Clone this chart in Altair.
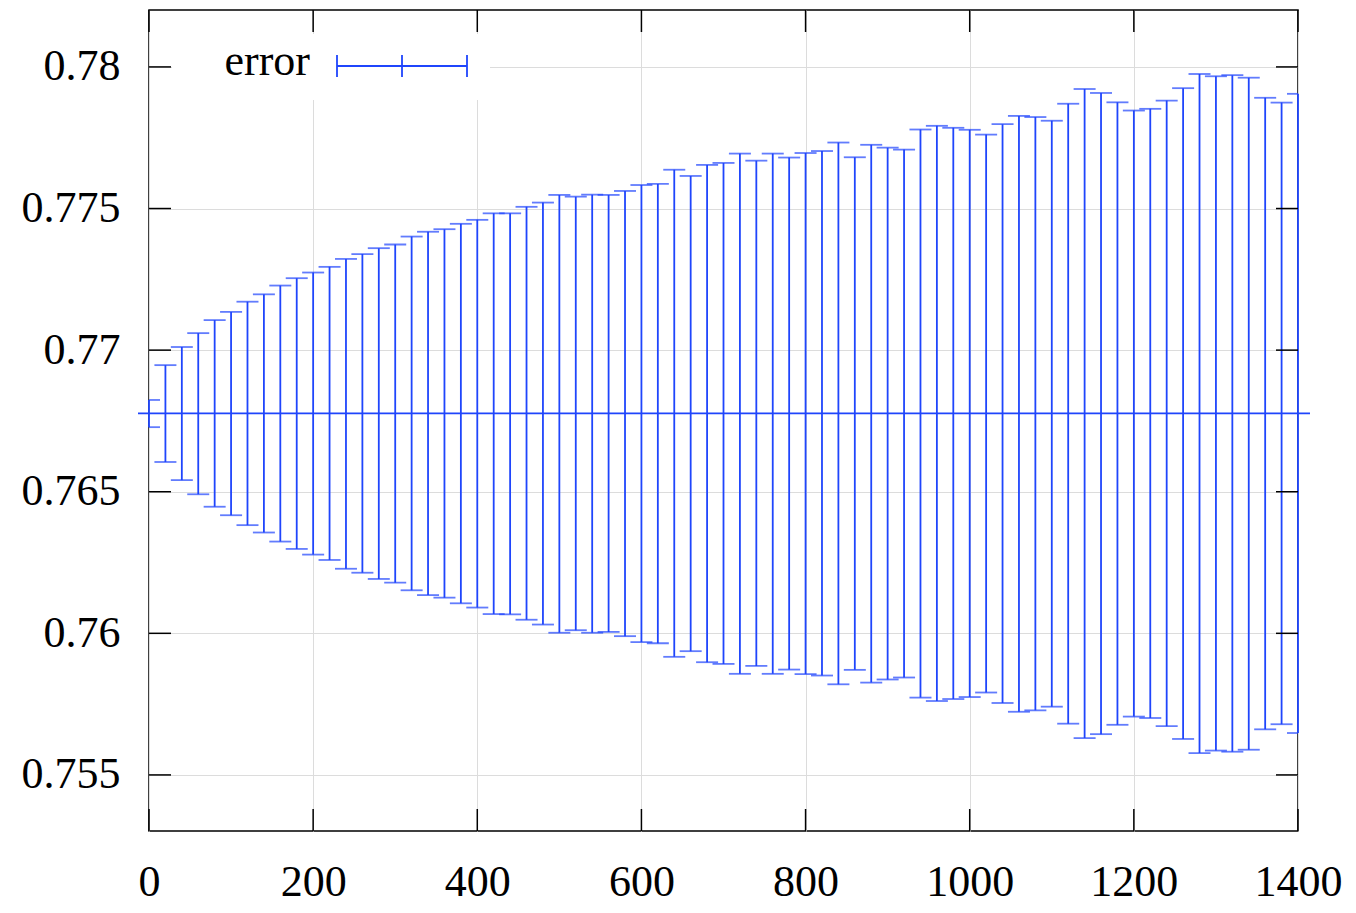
import altair as alt
import pandas as pd

# ---- data ----
X_VALUES = list(range(0, 1401, 20))
CENTER = 0.76777
UPPER = [0.76824, 0.76947, 0.77011, 0.77060, 0.77106, 0.77135, 0.77171, 0.77197, 0.77228, 0.77254,
         0.77274, 0.77294, 0.77322, 0.77339, 0.77360, 0.77373, 0.77401, 0.77418, 0.77427, 0.77446,
         0.77460, 0.77483, 0.77483, 0.77506, 0.77521, 0.77548, 0.77542, 0.77549, 0.77548, 0.77562,
         0.77583, 0.77587, 0.77637, 0.77615, 0.77654, 0.77661, 0.77694, 0.77669, 0.77694, 0.77680,
         0.77696, 0.77703, 0.77733, 0.77681, 0.77725, 0.77715, 0.77708, 0.77779, 0.77792, 0.77785,
         0.77778, 0.77761, 0.77798, 0.77827, 0.77823, 0.77810, 0.77870, 0.77922, 0.77908, 0.77875,
         0.77846, 0.77852, 0.77881, 0.77925, 0.77975, 0.77967, 0.77971, 0.77962, 0.77891, 0.77874,
         0.77905]
LOWER = [0.76728, 0.76605, 0.76541, 0.76491, 0.76447, 0.76417, 0.76382, 0.76356, 0.76324, 0.76298,
         0.76278, 0.76259, 0.76228, 0.76214, 0.76192, 0.76179, 0.76152, 0.76135, 0.76126, 0.76106,
         0.76091, 0.76068, 0.76067, 0.76048, 0.76031, 0.76002, 0.76011, 0.76002, 0.76005, 0.75990,
         0.75969, 0.75965, 0.75917, 0.75937, 0.75898, 0.75892, 0.75857, 0.75885, 0.75857, 0.75872,
         0.75856, 0.75851, 0.75820, 0.75871, 0.75826, 0.75837, 0.75844, 0.75773, 0.75761, 0.75768,
         0.75775, 0.75791, 0.75754, 0.75723, 0.75728, 0.75741, 0.75681, 0.75630, 0.75644, 0.75677,
         0.75706, 0.75701, 0.75672, 0.75627, 0.75577, 0.75586, 0.75582, 0.75589, 0.75661, 0.75679,
         0.75648]
X_TICKS = [0, 200, 400, 600, 800, 1000, 1200, 1400]
Y_TICKS = [0.755, 0.76, 0.765, 0.77, 0.775, 0.78]
SERIES_LABEL = "error"

# ---- style ----
W, H = 1149, 821
BLUE = "#1f45fc"
FONT = "Liberation Serif"
FS = 44
TICK = 22
LW = 1.8

df = pd.DataFrame({"x": X_VALUES, "lo": LOWER, "hi": UPPER})

xs = alt.Scale(domain=[0, 1400], nice=False, zero=False)
ys = alt.Scale(domain=[0.75302, 0.78201], nice=False, zero=False)
xaxis = alt.Axis(values=X_TICKS, format="d", title=None, ticks=False, domain=False,
                 grid=True, gridColor="#dcdcdc", gridWidth=1,
                 labelFont=FONT, labelFontSize=FS, labelColor="black",
                 labelPadding=29, labelFlush=False)
yaxis = alt.Axis(values=Y_TICKS, format=".3~f", title=None, ticks=False, domain=False,
                 grid=True, gridColor="#dcdcdc", gridWidth=1,
                 labelFont=FONT, labelFontSize=FS, labelColor="black",
                 labelPadding=29)

base = alt.Chart(df)
bars = base.mark_rule(color=BLUE, strokeWidth=LW).encode(
    x=alt.X("x:Q", scale=xs, axis=xaxis),
    y=alt.Y("lo:Q", scale=ys, axis=yaxis),
    y2="hi:Q",
)
caps_hi = base.mark_tick(orient="horizontal", size=22, thickness=LW, color=BLUE, clip=True).encode(
    x=alt.X("x:Q", scale=xs, axis=xaxis),
    y=alt.Y("hi:Q", scale=ys, axis=yaxis),
)
caps_lo = base.mark_tick(orient="horizontal", size=22, thickness=LW, color=BLUE, clip=True).encode(
    x=alt.X("x:Q", scale=xs, axis=xaxis),
    y=alt.Y("lo:Q", scale=ys, axis=yaxis),
)
center = alt.Chart(pd.DataFrame({"c": [CENTER]})).mark_rule(color=BLUE, strokeWidth=LW).encode(
    y=alt.Y("c:Q", scale=ys, axis=yaxis),
    x=alt.value(-11), x2=alt.value(W + 12),
)

ydf = pd.DataFrame({"v": Y_TICKS})
xdf = pd.DataFrame({"v": X_TICKS})
yt_left = alt.Chart(ydf).mark_rule(color="black", strokeWidth=1.5).encode(
    y=alt.Y("v:Q", scale=ys, axis=yaxis), x=alt.value(0), x2=alt.value(TICK))
yt_right = alt.Chart(ydf).mark_rule(color="black", strokeWidth=1.5).encode(
    y=alt.Y("v:Q", scale=ys, axis=yaxis), x=alt.value(W - TICK), x2=alt.value(W))
xt_bot = alt.Chart(xdf).mark_rule(color="black", strokeWidth=1.5).encode(
    x=alt.X("v:Q", scale=xs, axis=xaxis), y=alt.value(H - TICK), y2=alt.value(H))
xt_top = alt.Chart(xdf).mark_rule(color="black", strokeWidth=1.5).encode(
    x=alt.X("v:Q", scale=xs, axis=xaxis), y=alt.value(0), y2=alt.value(TICK))

one = pd.DataFrame({"a": [0]})
leg_box = alt.Chart(one).mark_rect(color="white").encode(
    x=alt.value(23), x2=alt.value(341), y=alt.value(24), y2=alt.value(90))
leg_text = alt.Chart(one).mark_text(text=SERIES_LABEL, font=FONT, fontSize=FS, align="right",
                                    baseline="alphabetic", color="black").encode(
    x=alt.value(161), y=alt.value(65))
leg_line = alt.Chart(one).mark_rule(color=BLUE, strokeWidth=LW).encode(
    x=alt.value(188), x2=alt.value(318), y=alt.value(56))
leg_c1 = alt.Chart(one).mark_rule(color=BLUE, strokeWidth=LW).encode(
    x=alt.value(188), y=alt.value(45), y2=alt.value(67))
leg_c2 = alt.Chart(one).mark_rule(color=BLUE, strokeWidth=LW).encode(
    x=alt.value(253), y=alt.value(45), y2=alt.value(67))
leg_c3 = alt.Chart(one).mark_rule(color=BLUE, strokeWidth=LW).encode(
    x=alt.value(318), y=alt.value(45), y2=alt.value(67))

chart = alt.layer(
    leg_box, bars, caps_hi, caps_lo, center,
    yt_left, yt_right, xt_bot, xt_top,
    leg_text, leg_line, leg_c1, leg_c2, leg_c3,
).properties(
    width=W, height=H,
    padding={"left": 141, "top": 2, "right": 48, "bottom": 74},
    autosize=alt.AutoSizeParams(type="none"),
).configure_view(stroke="black", strokeWidth=1.5)

chart.save("out.html", embed_options={"renderer": "svg", "actions": False})
